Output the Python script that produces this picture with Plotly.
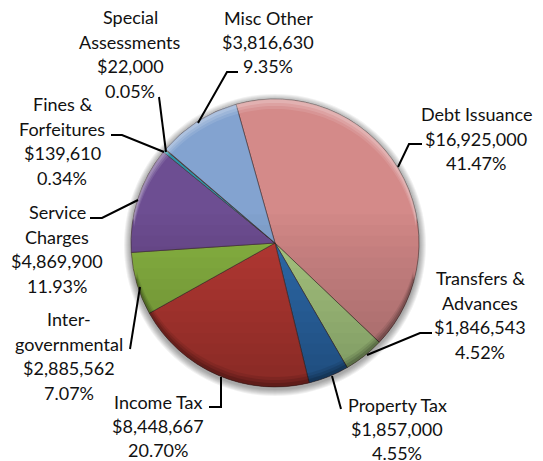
import math
import plotly.graph_objects as go

W, H = 543, 461
names = ["Debt Issuance", "Transfers & Advances", "Property Tax", "Income Tax", "Inter-governmental",
         "Service Charges", "Fines & Forfeitures", "Special Assessments", "Misc Other"]
values = [16925000, 1846543, 1857000, 8448667, 2885562, 4869900, 139610, 22000, 3816630]
colors = ["#D48A89", "#ADCD83", "#2F6DAE", "#B93A35", "#8BB443", "#6D4E92", "#2F93A8", "#E08A3C", "#83A3D0"]
label_text = [["Debt Issuance", "$16,925,000", "41.47%"],
              ["Transfers &", "Advances", "$1,846,543", "4.52%"],
              ["Property Tax", "$1,857,000", "4.55%"],
              ["Income Tax", "$8,448,667", "20.70%"],
              ["Inter-", "governmental", "$2,885,562", "7.07%"],
              ["Service", "Charges", "$4,869,900", "11.93%"],
              ["Fines &", "Forfeitures", "$139,610", "0.34%"],
              ["Special", "Assessments", "$22,000", "0.05%"],
              ["Misc Other", "$3,816,630", "9.35%"]]
label_xy = [(476, 138.5), (480, 315), (397, 429), (158, 426), (69, 356), (57, 249), (62, 141), (130, 54), (268, 42)]
leaders = [[(398, 167), (409, 144), (422, 144)],
           [(367, 355), (420, 333), (432, 333)],
           [(332, 376), (341, 409)],
           [(221, 377), (221, 407), (209, 407)],
           [(140, 287), (130, 349)],
           [(138, 200), (102, 218), (90, 218)],
           [(164, 152), (122, 135), (111, 135)],
           [(166, 152), (159, 97)],
           [(198, 123), (227, 72), (238, 72)]]

CX, CY, R = 275, 243, 144
LINE_H = 24.4
px = lambda x: x / W
py = lambda y: 1 - y / H


def pie(r, line):
    return go.Pie(values=values, labels=names, sort=False, direction="clockwise", rotation=-15.7,
                  textinfo="none", showlegend=False, hoverinfo="label+value+percent",
                  marker=dict(colors=colors, line=dict(color=line, width=1)),
                  domain=dict(x=[px(CX - r), px(CX + r)], y=[py(CY + r), py(CY - r)]))


def poly(points):
    return "M" + " L".join(f"{px(x):.5f},{py(y):.5f}" for x, y in points) + " Z"


def circle_pts(cx, cy, r, a0=0, a1=360, n=120):
    return [(cx + r * math.cos(math.radians(a0 + (a1 - a0) * i / n)),
             cy + r * math.sin(math.radians(a0 + (a1 - a0) * i / n))) for i in range(n + 1)]


shapes = []
for k in range(7):
    rr = R + 7 - k
    shapes.append(dict(type="path", layer="below", line_width=0, fillcolor="rgba(0,0,0,0.055)",
                       path=poly(circle_pts(CX, CY + 2, rr))))

for i in range(16):
    y = CY - R * 0.2 + i * R * 1.2 / 16
    half = math.degrees(math.asin(min(1, (y - CY) / R)))
    pts = circle_pts(CX, CY, R, half, 180 - half, 80)
    shapes.append(dict(type="path", line_width=0, fillcolor="rgba(0,0,0,0.014)", path=poly(pts)))


def crescent(offset, col, a0, a1):
    outer = circle_pts(CX, CY, R, a0, a1, 80)
    inner = []
    for x, y in reversed(outer):
        dx, dy = x - CX, y - CY
        inner.append((CX + dx * (R - 1) / R, CY + dy * (R - 1) / R + offset))
    return dict(type="path", line_width=0, fillcolor=col, path=poly(outer + inner))


for off, a in ((9, 0.10), (6, 0.13), (3, 0.16)):
    shapes.append(crescent(off, f"rgba(255,255,255,{a})", 190, 350))
for off, a in ((-9, 0.08), (-6, 0.11), (-3, 0.14)):
    shapes.append(crescent(off, f"rgba(0,0,0,{a})", 15, 165))

for pts in leaders:
    shapes.append(dict(type="path", line=dict(color="black", width=2), fillcolor="rgba(0,0,0,0)",
                       path="M" + " L".join(f"{px(x):.5f},{py(y):.5f}" for x, y in pts)))

annotations = []
for lines, (x, y) in zip(label_text, label_xy):
    for i, line in enumerate(lines):
        annotations.append(dict(x=px(x), y=py(y + (i - (len(lines) - 1) / 2) * LINE_H),
                                xref="paper", yref="paper", text=line, showarrow=False,
                                xanchor="center", yanchor="middle", align="center",
                                font=dict(family="Lato", size=18, color="#111111")))

fig = go.Figure(pie(R, "rgba(60,40,40,0.55)"))
fig.update_layout(width=W, height=H, margin=dict(l=0, r=0, t=0, b=0), paper_bgcolor="white",
                  plot_bgcolor="white", shapes=shapes, annotations=annotations)
fig.write_html("out.html", config=dict(displayModeBar=False),
               post_script="document.body.style.margin='0';document.body.style.overflow='hidden';")
